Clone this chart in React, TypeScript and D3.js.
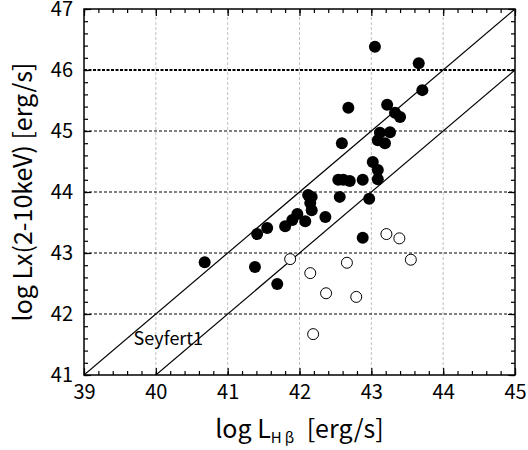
import React, { useEffect, useRef } from 'react';
import * as d3 from 'd3';

// log L_Hbeta, log Lx for filled (Seyfert 1) and open points
const filledX = [
  40.68, 41.38, 41.41, 41.55, 41.69, 41.8, 41.9, 41.97, 42.08, 42.12, 42.17, 42.15, 42.17,
  42.36, 42.56, 42.88, 42.97, 42.54, 42.61, 42.7, 42.88, 43.09, 43.09, 43.02, 42.59, 43.09,
  43.19, 43.12, 43.26, 42.68, 43.22, 43.33, 43.4, 43.71, 43.66, 43.05,
];
const filledY = [
  42.85, 42.77, 43.31, 43.41, 42.49, 43.44, 43.54, 43.64, 43.52, 43.95, 43.92, 43.82, 43.7,
  43.59, 43.92, 43.25, 43.89, 44.2, 44.2, 44.18, 44.2, 44.21, 44.36, 44.49, 44.8, 44.85,
  44.8, 44.97, 44.98, 45.38, 45.43, 45.3, 45.23, 45.67, 46.11, 46.38,
];
const openX = [41.87, 42.15, 42.37, 42.66, 42.79, 43.21, 43.39, 43.55, 42.19];
const openY = [42.9, 42.67, 42.34, 42.84, 42.28, 43.31, 43.24, 42.89, 41.67];

const xTicks = [39, 40, 41, 42, 43, 44, 45];
const yTicks = [41, 42, 43, 44, 45, 46, 47];
// relation lines: log Lx = log LHb + offset
const lineOffsets = [2, 1];

const App: React.FC = () => {
  const ref = useRef<SVGSVGElement>(null);

  useEffect(() => {
    if (!ref.current) return;
    const width = 528;
    const height = 450;
    const margin = { top: 9, right: 13, bottom: 75, left: 84 };
    const font = '"Noto Sans CJK JP", "DejaVu Sans", sans-serif';

    const svg = d3.select(ref.current);
    svg.selectAll('*').remove();

    const x = d3.scaleLinear().domain([39, 45]).range([margin.left, width - margin.right]);
    const y = d3.scaleLinear().domain([41, 47]).range([height - margin.bottom, margin.top]);
    const [x0, x1] = x.range();
    const [y0, y1] = y.range();

    svg.append('rect').attr('width', width).attr('height', height).attr('fill', '#fff');

    // vertical grid
    svg
      .append('g')
      .selectAll('line')
      .data(xTicks.slice(1, -1))
      .enter()
      .append('line')
      .attr('x1', (d) => x(d))
      .attr('x2', (d) => x(d))
      .attr('y1', y0)
      .attr('y2', y1)
      .attr('stroke', '#b0b0b0')
      .attr('stroke-width', 0.8)
      .attr('stroke-dasharray', '3,2');

    // horizontal grid
    svg
      .append('g')
      .selectAll('line')
      .data(yTicks.slice(1, -1))
      .enter()
      .append('line')
      .attr('x1', x0)
      .attr('x2', x1)
      .attr('y1', (d) => y(d))
      .attr('y2', (d) => y(d))
      .attr('stroke', '#000')
      .attr('stroke-width', (d) => (d === 46 ? 1.8 : 1))
      .attr('stroke-dasharray', (d) => (d === 46 ? '3,1.5' : '3,2'));

    // clip for relation lines
    svg
      .append('clipPath')
      .attr('id', 'plotclip')
      .append('rect')
      .attr('x', x0)
      .attr('y', y1)
      .attr('width', x1 - x0)
      .attr('height', y0 - y1);

    const line = d3
      .line<[number, number]>()
      .x((d) => x(d[0]))
      .y((d) => y(d[1]));

    svg
      .append('g')
      .attr('clip-path', 'url(#plotclip)')
      .selectAll('path')
      .data(lineOffsets)
      .enter()
      .append('path')
      .attr('d', (o) => line([[39, 39 + o], [45, 45 + o]]))
      .attr('fill', 'none')
      .attr('stroke', '#000')
      .attr('stroke-width', 1.2);

    // axes (ticks inside)
    const fmt = d3.format('d');
    const minorX = d3.range(39, 45.001, 0.2);
    const minorY = d3.range(41, 47.001, 0.2);

    const addAxis = (axis: d3.Axis<d3.NumberValue>, tx: number, ty: number, showLabels: boolean) => {
      const g = svg.append('g').attr('transform', `translate(${tx},${ty})`).call(axis);
      g.select('.domain').remove();
      g.selectAll('line').attr('stroke', '#000').attr('stroke-width', 1.2);
      if (!showLabels) g.selectAll('text').remove();
      else g.selectAll('text').attr('font-family', font).attr('font-size', 20).attr('fill', '#000');
      return g;
    };

    // bottom
    addAxis(d3.axisBottom(x).tickValues(minorX).tickSize(-4).tickFormat(() => ''), 0, y0, false);
    const gb = addAxis(d3.axisBottom(x).tickValues(xTicks).tickSize(-7).tickPadding(10).tickFormat((d) => fmt(d)), 0, y0, true);
    gb.selectAll('text').attr('dy', '0.72em');
    // top
    addAxis(d3.axisTop(x).tickValues(minorX).tickSize(-4), 0, y1, false);
    addAxis(d3.axisTop(x).tickValues(xTicks).tickSize(-7), 0, y1, false);
    // left
    addAxis(d3.axisLeft(y).tickValues(minorY).tickSize(-4).tickFormat(() => ''), x0, 0, false);
    addAxis(d3.axisLeft(y).tickValues(yTicks).tickSize(-7).tickPadding(11).tickFormat((d) => fmt(d)), x0, 0, true);
    // right
    addAxis(d3.axisRight(y).tickValues(minorY).tickSize(-4), x1, 0, false);
    addAxis(d3.axisRight(y).tickValues(yTicks).tickSize(-7), x1, 0, false);

    // frame
    svg
      .append('rect')
      .attr('x', x0)
      .attr('y', y1)
      .attr('width', x1 - x0)
      .attr('height', y0 - y1)
      .attr('fill', 'none')
      .attr('stroke', '#000')
      .attr('stroke-width', 1.5);

    // points
    svg
      .append('g')
      .selectAll('circle')
      .data(openX.map((v, i) => [v, openY[i]]))
      .enter()
      .append('circle')
      .attr('cx', (d) => x(d[0]))
      .attr('cy', (d) => y(d[1]))
      .attr('r', 5.5)
      .attr('fill', '#fff')
      .attr('stroke', '#000')
      .attr('stroke-width', 1);

    svg
      .append('g')
      .selectAll('circle')
      .data(filledX.map((v, i) => [v, filledY[i]]))
      .enter()
      .append('circle')
      .attr('cx', (d) => x(d[0]))
      .attr('cy', (d) => y(d[1]))
      .attr('r', 6)
      .attr('fill', '#000');

    // Seyfert1 label
    svg
      .append('text')
      .attr('x', x(39.69))
      .attr('y', y(41.49))
      .attr('font-family', font)
      .attr('font-size', 18)
      .attr('fill', '#000')
      .text('Seyfert1');

    // x axis title
    const xt = svg
      .append('text')
      .attr('x', (x0 + x1) / 2)
      .attr('y', 438)
      .attr('text-anchor', 'middle')
      .attr('font-family', font)
      .attr('font-size', 25)
      .attr('fill', '#000');
    xt.append('tspan').text('log L');
    xt.append('tspan').attr('font-size', 15).attr('dy', 5).text('H\u2009β');
    xt.append('tspan').attr('dy', -5).text('\u2002[erg/s]');

    // y axis title
    svg
      .append('text')
      .attr('transform', `translate(32,${(y0 + y1) / 2}) rotate(-90)`)
      .attr('text-anchor', 'middle')
      .attr('font-family', font)
      .attr('font-size', 25)
      .attr('fill', '#000')
      .text('log Lx(2-10keV) [erg/s]');
  }, []);

  return (
    <svg
      ref={ref}
      width={528}
      height={450}
      style={{ position: 'absolute', left: 0, top: 0, display: 'block' }}
    />
  );
};

export default App;
